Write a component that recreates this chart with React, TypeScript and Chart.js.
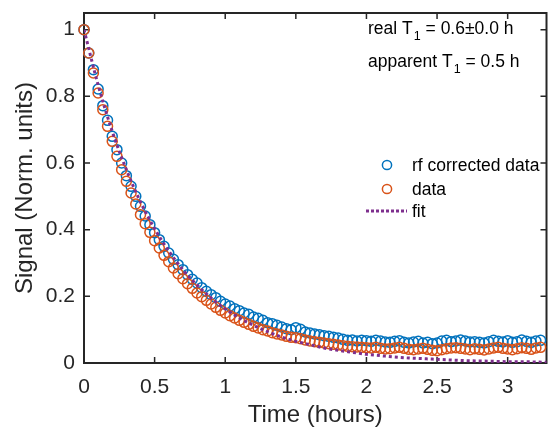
import React, { useEffect, useRef } from "react";
import { Chart, registerables } from "chart.js";

Chart.register(...registerables);

// Sampling interval of the measurement (hours)
const STEP_H = 1 / 30;

// "rf corrected data" (blue circles)
const RF_CORRECTED = [
  1.0, 0.93, 0.88, 0.822, 0.772, 0.728, 0.68, 0.64, 0.6, 0.562,
  0.53, 0.5, 0.47, 0.441, 0.415, 0.391, 0.37, 0.35, 0.33, 0.311,
  0.295, 0.28, 0.265, 0.251, 0.24, 0.226, 0.215, 0.205, 0.196, 0.185,
  0.177, 0.171, 0.163, 0.157, 0.15, 0.146, 0.138, 0.134, 0.128, 0.121,
  0.118, 0.113, 0.108, 0.103, 0.1, 0.106, 0.101, 0.093, 0.09, 0.087,
  0.085, 0.082, 0.08, 0.077, 0.075, 0.071, 0.068, 0.069, 0.066, 0.068,
  0.067, 0.065, 0.068, 0.066, 0.063, 0.062, 0.065, 0.067, 0.062, 0.06,
  0.063, 0.065, 0.06, 0.062, 0.058, 0.06, 0.066, 0.068, 0.064, 0.066,
  0.069, 0.066, 0.063, 0.064, 0.062, 0.06, 0.064, 0.068, 0.065, 0.063,
  0.067, 0.062, 0.064, 0.069, 0.065, 0.062, 0.066, 0.068,
];

// "data" (orange circles)
const RAW_DATA = [
  1.0, 0.93, 0.87, 0.81, 0.76, 0.71, 0.665, 0.62, 0.58, 0.545,
  0.51, 0.477, 0.445, 0.418, 0.392, 0.367, 0.345, 0.323, 0.304, 0.285,
  0.268, 0.253, 0.238, 0.224, 0.21, 0.199, 0.188, 0.177, 0.167, 0.158,
  0.15, 0.142, 0.135, 0.128, 0.122, 0.116, 0.11, 0.105, 0.1, 0.096,
  0.091, 0.087, 0.084, 0.08, 0.077, 0.076, 0.073, 0.069, 0.066, 0.064,
  0.062, 0.06, 0.058, 0.056, 0.054, 0.052, 0.05, 0.049, 0.048, 0.047,
  0.046, 0.045, 0.047, 0.044, 0.042, 0.043, 0.045, 0.047, 0.044, 0.041,
  0.04, 0.042, 0.044, 0.041, 0.038, 0.037, 0.04, 0.043, 0.045, 0.046,
  0.044, 0.042, 0.04, 0.043, 0.041, 0.039, 0.042, 0.045, 0.047, 0.044,
  0.042, 0.04, 0.043, 0.046, 0.044, 0.041, 0.045, 0.047,
];

// "fit" (purple dotted line)
const FIT_T = [
  0, 0.1, 0.2, 0.3, 0.4, 0.5, 0.6, 0.7, 0.8, 0.9, 1.0, 1.1, 1.2, 1.3, 1.4,
  1.5, 1.6, 1.7, 1.8, 1.9, 2.0, 2.1, 2.2, 2.3, 2.4, 2.5, 2.6, 2.7, 2.8, 2.9,
  3.0, 3.1, 3.2, 3.3,
];
const FIT_Y = [
  1.0, 0.834, 0.695, 0.58, 0.483, 0.403, 0.336, 0.28, 0.234, 0.195, 0.162,
  0.135, 0.113, 0.094, 0.078, 0.065, 0.055, 0.045, 0.038, 0.032, 0.026,
  0.022, 0.018, 0.015, 0.013, 0.011, 0.009, 0.007, 0.006, 0.005, 0.004,
  0.004, 0.003, 0.002,
];

const X_TICKS = [0, 0.5, 1, 1.5, 2, 2.5, 3];
const Y_TICKS = [0, 0.2, 0.4, 0.6, 0.8, 1];
const X_RANGE = [0, 3.275];
const Y_RANGE = [0, 1.05];

const LEGEND_LABELS = ["rf corrected data", "data", "fit"];
const ANNOTATIONS = [
  { pre: "real T", sub: "1", post: " = 0.6\u00B10.0 h" },
  { pre: "apparent T", sub: "1", post: " = 0.5 h" },
];

const FONT = "'Liberation Sans', Arial, Helvetica, sans-serif";
const AXIS_COLOR = "#262626";
const BLUE = "#0072BD";
const ORANGE = "#D95319";
const PURPLE = "#7E2F8E";

const fmt = (v: number) => String(Math.round(v * 100) / 100);

const boxPlugin = {
  id: "matlabBox",
  beforeDatasetsDraw(chart: any) {
    const { ctx, chartArea } = chart;
    const { left, right, top, bottom } = chartArea;
    ctx.save();
    ctx.strokeStyle = AXIS_COLOR;
    ctx.lineWidth = 2;
    ctx.strokeRect(left, top, right - left, bottom - top);
    ctx.lineWidth = 1.5;
    const tl = 6;
    const xs = chart.scales.x;
    const ys = chart.scales.y;
    ctx.beginPath();
    X_TICKS.forEach((v) => {
      const px = xs.getPixelForValue(v);
      ctx.moveTo(px, bottom);
      ctx.lineTo(px, bottom - tl);
      ctx.moveTo(px, top);
      ctx.lineTo(px, top + tl);
    });
    Y_TICKS.forEach((v) => {
      const py = ys.getPixelForValue(v);
      ctx.moveTo(left, py);
      ctx.lineTo(left + tl, py);
      ctx.moveTo(right, py);
      ctx.lineTo(right - tl, py);
    });
    ctx.stroke();
    ctx.restore();
  },
};

const overlayPlugin = {
  id: "overlay",
  afterDatasetsDraw(chart: any) {
    const { ctx } = chart;
    ctx.save();
    // annotations
    ctx.fillStyle = "#000";
    ctx.textBaseline = "alphabetic";
    ctx.textAlign = "left";
    const annBase = [34, 67];
    ANNOTATIONS.forEach((a, i) => {
      let x = 368;
      const y = annBase[i];
      ctx.font = `17.5px ${FONT}`;
      ctx.fillText(a.pre, x, y);
      x += ctx.measureText(a.pre).width + 1;
      ctx.font = `12.5px ${FONT}`;
      ctx.fillText(a.sub, x, y + 6);
      x += ctx.measureText(a.sub).width;
      ctx.font = `17.5px ${FONT}`;
      ctx.fillText(a.post, x, y);
    });

    // legend
    const rows = [165, 189, 211];
    const colors = [BLUE, ORANGE, PURPLE];
    ctx.font = `17.5px ${FONT}`;
    ctx.textBaseline = "middle";
    rows.forEach((y, i) => {
      if (i < 2) {
        ctx.beginPath();
        ctx.strokeStyle = colors[i];
        ctx.lineWidth = 1.5;
        ctx.arc(387, y, 4.6, 0, Math.PI * 2);
        ctx.stroke();
      } else {
        ctx.beginPath();
        ctx.strokeStyle = colors[i];
        ctx.lineWidth = 3;
        ctx.setLineDash([3, 2]);
        ctx.moveTo(366, y);
        ctx.lineTo(407, y);
        ctx.stroke();
        ctx.setLineDash([]);
      }
      ctx.fillStyle = "#000";
      ctx.fillText(LEGEND_LABELS[i], 412, y + 1);
    });
    ctx.restore();
  },
};

export default function App() {
  const ref = useRef<HTMLCanvasElement>(null);

  useEffect(() => {
    document.body.style.margin = "0";
    const canvas = ref.current;
    if (!canvas) return;

    const blue = RF_CORRECTED.map((y, i) => ({ x: i * STEP_H, y }));
    const orange = RAW_DATA.map((y, i) => ({ x: i * STEP_H, y }));
    const fit = FIT_T.map((x, i) => ({ x, y: FIT_Y[i] }));

    const tickFont = { family: FONT, size: 21 };
    const titleFont = { family: FONT, size: 24 };

    const chart = new Chart(canvas, {
      type: "scatter",
      data: {
        datasets: [
          {
            label: LEGEND_LABELS[0],
            data: blue,
            borderColor: BLUE,
            backgroundColor: "rgba(0,0,0,0)",
            pointRadius: 5,
            pointBorderWidth: 1.5,
            pointStyle: "circle",
            order: 3,
            clip: false as any,
          },
          {
            label: LEGEND_LABELS[1],
            data: orange,
            borderColor: ORANGE,
            backgroundColor: "rgba(0,0,0,0)",
            pointRadius: 5,
            pointBorderWidth: 1.5,
            pointStyle: "circle",
            order: 2,
            clip: false as any,
          },
          {
            type: "line" as any,
            label: LEGEND_LABELS[2],
            data: fit,
            borderColor: PURPLE,
            borderWidth: 3,
            borderDash: [3, 3],
            pointRadius: 0,
            showLine: true,
            fill: false,
            cubicInterpolationMode: "monotone",
            order: 1,
          } as any,
        ],
      },
      options: {
        responsive: false,
        animation: false,
        devicePixelRatio: 1,
        events: [],
        layout: { padding: { top: 13, right: 2, bottom: 0, left: 0 } },
        plugins: {
          legend: { display: false },
          tooltip: { enabled: false },
        },
        scales: {
          x: {
            type: "linear",
            min: X_RANGE[0],
            max: X_RANGE[1],
            grid: { display: false, drawTicks: false },
            border: { display: false },
            ticks: {
              font: tickFont,
              color: AXIS_COLOR,
              padding: 12,
              maxRotation: 0,
              autoSkip: false,
              includeBounds: false,
              callback: (v: any) => fmt(Number(v)),
            },
            afterBuildTicks: (s: any) => {
              s.ticks = X_TICKS.map((value) => ({ value }));
            },
            afterFit: (s: any) => {
              s.height = 68;
              s.paddingLeft = 0;
              s.paddingRight = 0;
            },
            title: {
              display: true,
              text: "Time (hours)",
              font: titleFont,
              color: AXIS_COLOR,
              padding: { top: 0, bottom: 1 },
            },
          },
          y: {
            type: "linear",
            min: Y_RANGE[0],
            max: Y_RANGE[1],
            grid: { display: false, drawTicks: false },
            border: { display: false },
            ticks: {
              font: tickFont,
              color: AXIS_COLOR,
              padding: 9,
              autoSkip: false,
              includeBounds: false,
              callback: (v: any) => fmt(Number(v)),
            },
            afterBuildTicks: (s: any) => {
              s.ticks = Y_TICKS.map((value) => ({ value }));
            },
            afterFit: (s: any) => {
              s.width = 84;
              s.paddingTop = 0;
              s.paddingBottom = 0;
            },
            title: {
              display: true,
              text: "Signal (Norm. units)",
              font: titleFont,
              color: AXIS_COLOR,
              padding: { top: 11, bottom: 0 },
            },
          },
        },
      } as any,
      plugins: [boxPlugin, overlayPlugin],
    });

    return () => chart.destroy();
  }, []);

  return (
    <div style={{ position: "absolute", left: 0, top: 0, width: 553, height: 431, background: "#fff" }}>
      <canvas ref={ref} width={553} height={431} style={{ display: "block", width: 553, height: 431 }} />
    </div>
  );
}
